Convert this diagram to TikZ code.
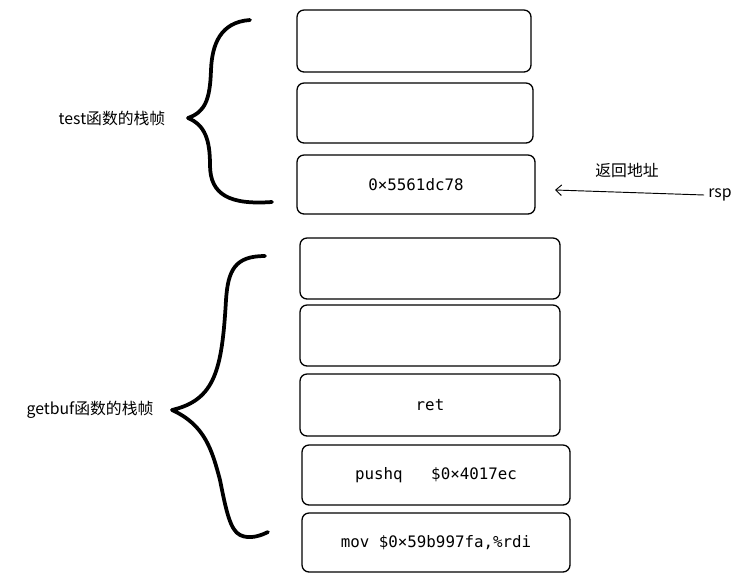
\documentclass[tikz,border=0pt]{standalone}
\usepackage{fontspec}
\setmainfont{Liberation Sans}
\setmonofont{DejaVu Sans Mono}
\newfontfamily\cjk{Noto Sans CJK SC}
\usepackage{tikz}
\usetikzlibrary{calc,arrows.meta}

\tikzset{
    slot/.style={draw,line width=1.1pt,rounded corners=6pt,font=\fontsize{13.5}{16}\selectfont\ttfamily},
    brace/.style={line width=3.2pt,line cap=round,line join=round},
    lbl/.style={font=\fontsize{13.5}{16}\selectfont\cjk}
}

\begin{document}
\begin{tikzpicture}[x=0.03cm,y=-0.03cm]
                \useasboundingbox (0,0) rectangle (743,584);
                % stack slots
                \draw[slot] (297,10) rectangle (531,72) node[midway] (s1) {};
                \draw[slot] (297,83) rectangle (533,143) node[midway] (s2) {};
                \draw[slot] (297,155) rectangle (535,214) node[midway] (s3) {0×5561dc78};
                \draw[slot] (300,238) rectangle (560,299) node[midway] (s4) {};
                \draw[slot] (300,305) rectangle (560,366) node[midway] (s5) {};
                \draw[slot] (300,374) rectangle (560,436) node[midway] (s6) {ret};
                \draw[slot] (302,445) rectangle (570,505) node[midway] (s7) {pushq\ \ \ \$0×4017ec};
                \draw[slot] (302,513) rectangle (570,572) node[midway] (s8) {mov \$0×59b997fa,\%rdi};
                % braces
                \draw[brace] (250,20) .. controls (220,22) and (212,45) .. (211,70)
                    .. controls (210,100) and (205,112) .. (188,118)
                    .. controls (205,125) and (210,140) .. (210,165)
                    .. controls (210,195) and (230,205) .. (272,202);
                \draw[brace] (265,256) .. controls (235,256) and (228,270) .. (226,300)
                    .. controls (222,370) and (215,400) .. (172,410)
                    .. controls (205,425) and (212,450) .. (220,480)
                    .. controls (226,510) and (230,530) .. (240,535)
                    .. controls (250,540) and (262,535) .. (268,532);
                \node[lbl] (t1) at (112,118) {test函数的栈帧};
                \node[lbl] (t2) at (90,410) {getbuf函数的栈帧};
                % return address pointer
                \node[lbl] (rsp) at (720,195) {rsp};
                \node[lbl] (ra) at (627,170) {返回地址};
                \coordinate (tip) at (555,190);
                \draw[line width=0.8pt,-{Straight Barb[length=5pt,width=9pt]}] (rsp.west) -- (tip);
            \end{tikzpicture}
\end{document}
